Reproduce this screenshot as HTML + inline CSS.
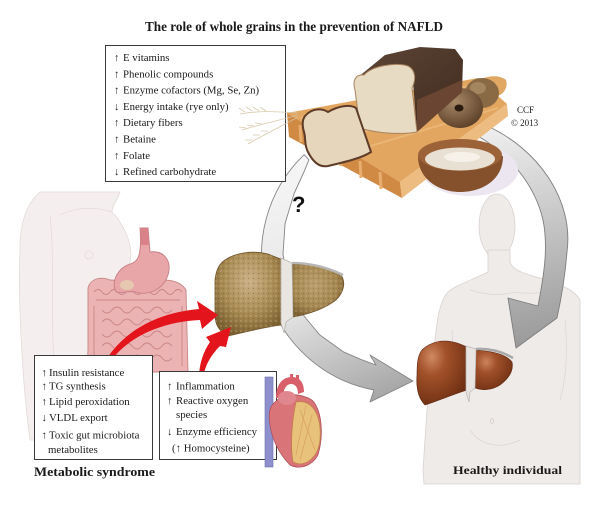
<!DOCTYPE html>
<html><head><meta charset="utf-8"><style>
html,body{margin:0;padding:0;background:#fff;}
svg{display:block;}
text{font-family:"Liberation Serif","DejaVu Serif",serif;fill:#1a1a1a;}
</style></head><body>
<svg width="600" height="506" viewBox="0 0 600 506" xmlns="http://www.w3.org/2000/svg">
<defs>
<linearGradient id="gL" x1="300" y1="160" x2="400" y2="395" gradientUnits="userSpaceOnUse">
<stop offset="0" stop-color="#f6f6f6"/><stop offset="0.55" stop-color="#e2e2e2"/><stop offset="1" stop-color="#a4a4a4"/></linearGradient>
<linearGradient id="gR" x1="480" y1="130" x2="530" y2="345" gradientUnits="userSpaceOnUse">
<stop offset="0" stop-color="#efefef"/><stop offset="0.5" stop-color="#c4c4c4"/><stop offset="1" stop-color="#9a9a9a"/></linearGradient>
<radialGradient id="fatL" cx="0.5" cy="0.35" r="0.65"><stop offset="0" stop-color="#cbb288"/><stop offset="0.6" stop-color="#a88a52"/><stop offset="1" stop-color="#7c6132"/></radialGradient>
<radialGradient id="fatR" cx="0.45" cy="0.4" r="0.65"><stop offset="0" stop-color="#bba070"/><stop offset="0.65" stop-color="#a48650"/><stop offset="1" stop-color="#7a5f30"/></radialGradient>
<radialGradient id="hlL" cx="0.3" cy="0.25" r="0.8"><stop offset="0" stop-color="#d08a62"/><stop offset="0.35" stop-color="#a3522a"/><stop offset="1" stop-color="#6e2f12"/></radialGradient>
<radialGradient id="hlR" cx="0.3" cy="0.3" r="0.8"><stop offset="0" stop-color="#cc845c"/><stop offset="0.35" stop-color="#a0502a"/><stop offset="1" stop-color="#6e2f12"/></radialGradient>
<radialGradient id="bagel" cx="0.4" cy="0.35" r="0.7"><stop offset="0" stop-color="#a88a68"/><stop offset="1" stop-color="#5a3e26"/></radialGradient>
<linearGradient id="crust" x1="0" y1="0" x2="1" y2="1"><stop offset="0" stop-color="#5e4636"/><stop offset="1" stop-color="#3e2a1e"/></linearGradient>
<pattern id="sp" width="5" height="5" patternUnits="userSpaceOnUse">
<circle cx="1" cy="1" r="0.8" fill="#d8c69c" opacity="0.55"/>
<circle cx="3.5" cy="3.5" r="0.7" fill="#5e4620" opacity="0.35"/>
</pattern>
</defs>

<!-- woman body -->
<path d="M40,192 L120,192 C118,200 112,205 112,212 C122,222 131,240 131,255 C130,268 125,275 122,282 L128,310 L150,440 L30,440 C22,380 18,300 20,250 C20,225 25,205 40,192 Z" fill="#f4efee" stroke="#e2dad8" stroke-width="0.8"/>
<path d="M50,215 C55,260 50,320 55,380" fill="none" stroke="#e3dbd9" stroke-width="0.8"/>
<path d="M60,215 C80,205 100,208 112,212" fill="none" stroke="#e3dbd9" stroke-width="0.8"/>
<circle cx="89" cy="255" r="4" fill="none" stroke="#e3dbd9" stroke-width="0.8"/>

<!-- man body -->
<ellipse cx="497" cy="226" rx="18" ry="32" fill="#efebe9" stroke="#d8d2d0" stroke-width="0.8"/>
<path d="M488,250 L488,272 C470,281 456,285 448,292 C440,300 437,320 435,340 L428,395 L423,470 L424,484 L580,484 L580,300 C575,290 560,284 540,278 C525,274 512,270 510,262 L510,250 Z" fill="#efebe9" stroke="#d8d2d0" stroke-width="0.8"/>
<path d="M470,290 C485,295 500,296 515,292 M515,292 C530,295 545,292 560,290 M452,330 C454,360 450,380 446,400 M565,320 C568,350 566,380 560,400 M470,430 C480,445 500,450 520,440" fill="none" stroke="#dcd6d4" stroke-width="0.7"/>
<ellipse cx="492" cy="421" rx="1.5" ry="2.5" fill="none" stroke="#cfc8c6" stroke-width="0.7"/>

<!-- intestines -->
<path d="M88,288 C90,279 100,276 110,280 L150,282 C165,278 180,280 186,290 L188,372 C180,378 170,378 160,372 L100,372 C90,370 87,360 88,350 Z" fill="#ebb3b3" stroke="#c88686" stroke-width="0.9"/>
<g fill="none" stroke="#c98484" stroke-width="0.9">
<path d="M94,292 q4,-5 8,0 t8,0 t8,0 t8,0 t8,0 t8,0 t8,0 t8,0 t8,0 t8,0 t8,0"/>
<path d="M96,300 L180,300"/>
<path d="M94,306 q0,5 0,10 t0,10 t0,10 t0,10 t0,10 t0,10"/>
<path d="M182,306 q0,5 0,10 t0,10 t0,10 t0,10 t0,10 t0,10"/>
<path d="M102,310 q5,6 10,0 t10,0 t10,0 t10,0 t10,0 t10,0 t10,0"/>
<path d="M102,322 q5,-6 10,0 t10,0 t10,0 t10,0 t10,0 t10,0 t10,0"/>
<path d="M102,334 q5,6 10,0 t10,0 t10,0 t10,0 t10,0 t10,0 t10,0"/>
<path d="M102,346 q5,-6 10,0 t10,0 t10,0 t10,0 t10,0 t10,0 t10,0"/>
<path d="M102,358 q5,6 10,0 t10,0 t10,0 t10,0 t10,0 t10,0 t10,0"/>
</g>
<!-- stomach -->
<path d="M140,228 L148,228 L150,252 C165,250 172,262 168,275 C163,290 148,296 135,292 C125,290 118,296 115,290 C112,280 118,268 130,264 C138,262 142,256 140,228 Z" fill="#e9a6a9" stroke="#c47f84" stroke-width="0.9"/>
<path d="M140,228 L148,228 L149,245 L141,245 Z" fill="#d9828a"/>
<ellipse cx="127" cy="285" rx="7" ry="5" fill="#e6c8b0"/>

<!-- left gray arc -->
<path d="M304.1,154.7 A138 138 0 0 0 374,390 L370,402 L413,381 L370,355 L376,365 L361.5,359.7 L343.5,351.9 L319.4,334.6 L300.4,311.5 L288,284 L283,254 L285.1,223.2 L294.3,193 L303.5,173 L309,159.8 Z" fill="url(#gL)" stroke="#858585" stroke-width="0.9" stroke-linejoin="round"/>

<!-- right gray arc -->
<path d="M485,125 C538,148 574,200 567,252 C565,277 562,295 557,318 L516,348 L508,298 L538,306 C545,270 548,245 543,220 C535,185 510,155 478,136 Z" fill="url(#gR)" stroke="#7e7e7e" stroke-width="0.9" stroke-linejoin="round"/>

<!-- bread board shadow -->
<ellipse cx="470" cy="170" rx="48" ry="26" fill="#ece6f0"/>
<!-- board -->
<path d="M287,113 L478,78 L507,104 L400,182 Z" fill="#e2a660"/>
<path d="M300,118 L470,86 M310,128 L485,92 M330,140 L495,100 M350,152 L498,108" stroke="#eab676" stroke-width="2" fill="none"/>
<path d="M287,113 L400,182 L402,198 L289,137 Z" fill="#d08a44"/>
<path d="M300,125 L301,142 M320,137 L321,154 M340,149 L341,166 M360,161 L361,178 M380,172 L381,189" stroke="#e8ae70" stroke-width="3" fill="none"/>
<path d="M400,182 L507,104 L508,116 L402,198 Z" fill="#ecbc80"/>
<path d="M478,80 C490,75 500,75 506,80 C508,86 505,92 500,95 L490,98 Z" fill="#e0a862"/>

<!-- roll and bagel -->
<ellipse cx="482" cy="93" rx="17" ry="15" fill="#8a6a45"/>
<ellipse cx="478" cy="88" rx="8" ry="6" fill="#a4865e"/>
<ellipse cx="460" cy="108" rx="23" ry="20" fill="url(#bagel)"/>
<ellipse cx="459" cy="108" rx="4.5" ry="3.5" fill="#2a1a10"/>

<!-- loaf -->
<path d="M357,78 L385,55 L420,47 L455,49 L463,60 L462,92 L417,132 L412,70 Z" fill="url(#crust)"/>
<path d="M417,100 L462,80 L462,92 L417,132 Z" fill="#6a4632"/>
<path d="M355,90 C352,80 356,74 364,75 C372,66 395,62 408,66 C416,70 416,80 412,88 L417,132 C400,135 375,133 360,128 Z" fill="#e8dbc4" stroke="#a8845e" stroke-width="1"/>

<!-- slice -->
<path d="M305,116 C312,108 322,108 328,112 C338,106 350,104 356,108 L371,152 C362,158 345,162 328,166 C318,168 312,160 308,152 C304,145 306,138 304,132 C302,125 302,120 305,116 Z" fill="#e6d6bc" stroke="#5e3c28" stroke-width="2"/>

<!-- bowl -->
<path d="M418,156 C418,180 440,192 460,192 C482,192 503,180 503,156 Z" fill="#85502c"/>
<ellipse cx="460" cy="155" rx="42" ry="16" fill="#9c6238"/>
<ellipse cx="460" cy="159" rx="35" ry="11.5" fill="#e8e0d2"/>
<ellipse cx="462" cy="157" rx="18" ry="5" fill="#f6f2ea"/>

<!-- CCF -->
<text x="517" y="113" font-size="9" fill="#333">CCF</text>
<text x="511" y="126" font-size="9" fill="#333">© 2013</text>

<!-- top box -->
<rect x="105.5" y="45.5" width="180" height="136" fill="#fff" stroke="#3a3a3a" stroke-width="1"/>
<!-- wheat -->
<g stroke="#d4c4a4" stroke-width="0.8" fill="none" opacity="0.9">
<path d="M298,113 C280,112 262,110 240,114"/>
<path d="M298,115 C280,120 262,124 242,130"/>
<path d="M298,117 C282,126 265,134 248,144"/>
<path d="M245,112 l-6,-4 M252,111 l-6,-4 M259,111 l-6,-4 M266,111 l-6,-4 M246,128 l-7,-1 M254,126 l-7,-1 M262,124 l-7,-1 M252,140 l-7,0 M260,135 l-7,0 M268,131 l-7,0"/>
</g>
<g font-size="10.8">
<text x="114" y="61">↑</text><text x="123" y="61">E vitamins</text>
<text x="114" y="77.3">↑</text><text x="123" y="77.3">Phenolic compounds</text>
<text x="114" y="93.6">↑</text><text x="123" y="93.6">Enzyme cofactors (Mg, Se, Zn)</text>
<text x="114" y="110">↓</text><text x="123" y="110">Energy intake (rye only)</text>
<text x="114" y="126.2">↑</text><text x="123" y="126.2">Dietary fibers</text>
<text x="114" y="142.5">↑</text><text x="123" y="142.5">Betaine</text>
<text x="114" y="158.8">↑</text><text x="123" y="158.8">Folate</text>
<text x="114" y="175">↓</text><text x="123" y="175">Refined carbohydrate</text>
</g>

<!-- fatty liver -->
<path d="M225,260 C235,253 252,250 268,254 L283,260 L281,325 C265,327 245,332 228,336 C220,332 215,325 215,315 L215,280 C216,270 219,264 225,260 Z" fill="url(#fatL)" stroke="#6e5428" stroke-width="0.8"/>
<path d="M225,260 C235,253 252,250 268,254 L283,260 L281,325 C265,327 245,332 228,336 C220,332 215,325 215,315 L215,280 C216,270 219,264 225,260 Z" fill="url(#sp)"/>
<path d="M291,264 C310,264 330,268 341,275 C346,282 344,292 336,300 C326,308 310,314 293,317 Z" fill="url(#fatR)" stroke="#6e5428" stroke-width="0.8"/>
<path d="M291,264 C310,264 330,268 341,275 C346,282 344,292 336,300 C326,308 310,314 293,317 Z" fill="url(#sp)"/>
<path d="M281,258 L292,263 L293,317 L286,322 L284,333 L281,323 Z" fill="#e9e6e2" stroke="#b4b0ac" stroke-width="0.7"/>
<path d="M292,263 Q318,263 343,275" fill="none" stroke="#b8b6b4" stroke-width="2.5"/>

<!-- healthy liver -->
<path d="M422,350 C430,342 443,338 460,344 L467,347 L467,390 C452,395 437,401 425,405 C418,398 416,388 417,375 C417,362 418,355 422,350 Z" fill="url(#hlL)" stroke="#5e2810" stroke-width="0.6"/>
<path d="M475,350 C492,351 506,354 512,362 C514,371 508,379 500,385 C492,390 483,391 475,388 Z" fill="url(#hlR)" stroke="#5e2810" stroke-width="0.6"/>
<path d="M466,346 L476,349 L475,388 L470,392 L469,402 L466,392 Z" fill="#e8e4e2" stroke="#b8b4b2" stroke-width="0.7"/>
<path d="M476,349 Q496,348 513,358" fill="none" stroke="#a9a9a9" stroke-width="2.5"/>

<!-- red arrows -->
<path d="M108,357 C125,332 155,313 199,309 L197,301 L218,315 L202,329 L200,320 C160,322 130,337 112,359 Z" fill="#e3141b"/>
<path d="M199,378 C199,365 203,352 210,342 L206,337 L231,327 L226,347 L220,346 C211,355 205,365 203,378 Z" fill="#e3141b"/>

<!-- lower boxes -->
<rect x="34.5" y="355.5" width="118" height="104" fill="#fff" stroke="#3a3a3a" stroke-width="1"/>
<rect x="159.5" y="371.5" width="117" height="88" fill="#fff" stroke="#3a3a3a" stroke-width="1"/>
<g font-size="10.8">
<text x="41.5" y="376">↑</text><text x="49" y="376">Insulin resistance</text>
<text x="41.5" y="389.5">↑</text><text x="49" y="389.5">TG synthesis</text>
<text x="41.5" y="405">↑</text><text x="49" y="405">Lipid peroxidation</text>
<text x="41.5" y="421">↓</text><text x="49" y="421">VLDL export</text>
<text x="41.5" y="438.5">↑</text><text x="49" y="438.5">Toxic gut microbiota</text>
<text x="48" y="453">metabolites</text>
<text x="167" y="389.5">↑</text><text x="176" y="389.5">Inflammation</text>
<text x="167" y="404">↑</text><text x="176" y="404">Reactive oxygen</text>
<text x="176" y="418">species</text>
<text x="167" y="435">↓</text><text x="176" y="435">Enzyme efficiency</text>
<text x="172" y="451.5">(↑ Homocysteine)</text>
</g>

<!-- heart -->
<rect x="265" y="377" width="8" height="90" fill="#8d90cc" stroke="#6c6fae" stroke-width="0.6"/>
<path d="M276,398 C276,385 282,377 292,377 C300,377 304,383 304,392 L298,394 C298,387 295,384 291,384 C286,384 283,390 283,398 Z" fill="#d9606a"/>
<rect x="290" y="374" width="3" height="6" fill="#d9606a"/>
<rect x="296" y="375" width="3" height="6" fill="#d9606a"/>
<path d="M275,402 C285,392 300,393 312,400 C322,410 324,435 318,455 C312,466 300,470 290,465 C280,455 272,440 270,425 C268,412 270,406 275,402 Z" fill="#d97579" stroke="#a84a50" stroke-width="0.7"/>
<ellipse cx="287" cy="398" rx="9" ry="7" fill="#e0868e"/>
<path d="M296,402 C311,399 322,413 320,440 C318,458 305,468 293,462 C290,445 292,420 296,402 Z" fill="#e8c27a" stroke="#c08048" stroke-width="0.8"/>
<path d="M300,410 L315,450 M306,405 L296,455 M312,415 L300,460" stroke="#d9a060" stroke-width="0.7" fill="none"/>

<!-- labels -->
<text x="145" y="31" font-size="13.5" font-weight="bold" textLength="298" lengthAdjust="spacingAndGlyphs">The role of whole grains in the prevention of NAFLD</text>
<text x="34" y="476" font-size="13" font-weight="bold" textLength="121" lengthAdjust="spacingAndGlyphs">Metabolic syndrome</text>
<text x="453" y="474" font-size="12" font-weight="bold" textLength="109" lengthAdjust="spacingAndGlyphs">Healthy individual</text>
<text x="292" y="212" font-size="22" font-weight="bold" style="font-family:'Liberation Sans',sans-serif;fill:#111">?</text>
</svg>
</body></html>
